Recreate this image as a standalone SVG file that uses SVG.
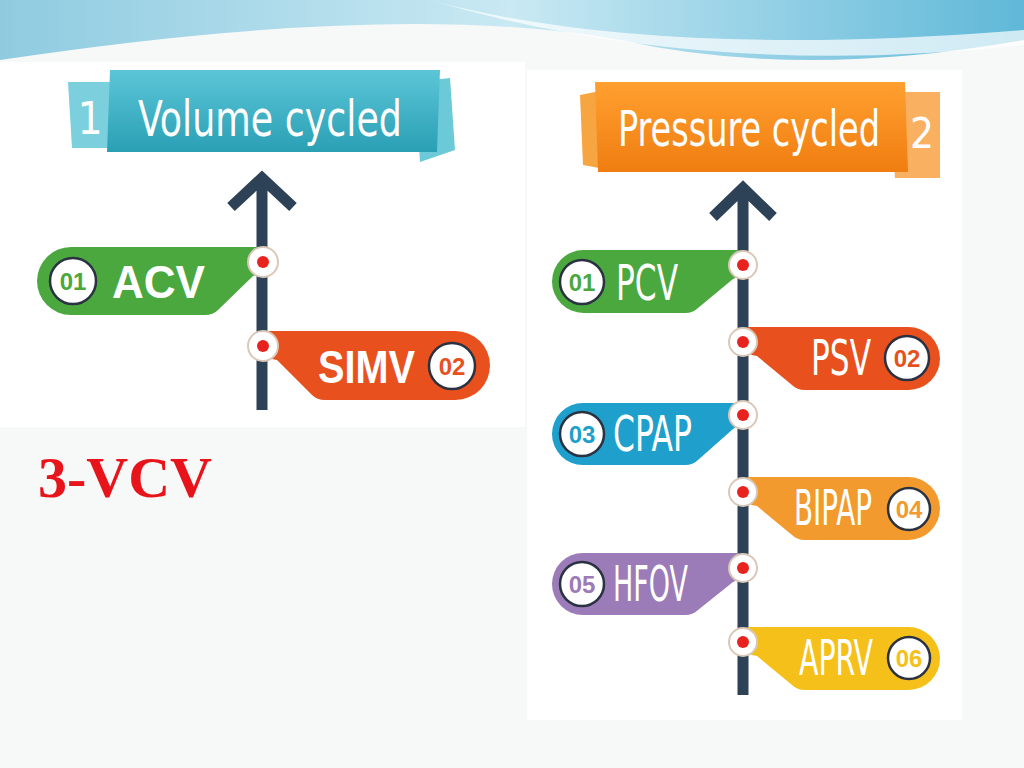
<svg xmlns="http://www.w3.org/2000/svg" width="1024" height="768" viewBox="0 0 1024 768">
<defs>
<linearGradient id="sky" x1="0" y1="0" x2="1" y2="0"><stop offset="0" stop-color="#8fcbe0"/><stop offset="0.5" stop-color="#c9e9f3"/><stop offset="1" stop-color="#5fb8d8"/></linearGradient>
<linearGradient id="teal" x1="0" y1="0" x2="0" y2="1"><stop offset="0" stop-color="#5cc6d8"/><stop offset="1" stop-color="#2a9fb4"/></linearGradient>
<linearGradient id="org" x1="0" y1="0" x2="0" y2="1"><stop offset="0" stop-color="#ffa030"/><stop offset="1" stop-color="#f07d10"/></linearGradient>
</defs>
<style>
.num{fill:#fff;stroke:#2a3140;stroke-width:2.5}
.nt{font-family:"Liberation Sans",Arial,sans-serif;font-weight:bold;font-size:24px;text-anchor:middle}
.bl{font-family:"Liberation Sans",Arial,sans-serif;font-weight:bold;font-size:46px;fill:#fff}
.cl{font-family:"DejaVu Sans Condensed","DejaVu Sans",sans-serif;font-size:50px;fill:#fff;font-stretch:condensed}
.dot{fill:#fff;stroke:#d9c8b8;stroke-width:2}
.red{fill:#e8231e}
.line{stroke:#2d4256;stroke-width:11;fill:none}
</style>
<rect width="1024" height="768" fill="#f7f8f8"/>
<path d="M0 0 H1024 V40 Q800 80 620 40 Q400 0 0 60 Z" fill="url(#sky)"/>
<path d="M430 0 Q650 60 1024 30 V45 Q700 80 430 0Z" fill="#ffffff" opacity="0.7"/>
<rect x="0" y="62" width="525" height="365" fill="#fff"/>
<rect x="527" y="70" width="435" height="650" fill="#fff"/>
<g id="connectors">
<path class="line" d="M262 410 V180 M231 207 L262 178 L293 207"/>
<path class="line" d="M743 695 V192 M713 217 L743 188 L773 217"/>
</g>
<g id="banner1">
<path d="M68 82 H130 V148 H72 Z" fill="#7ccfdc"/>
<path d="M415 82 L450 78 L455 150 L420 162 Z" fill="#6ccad8"/>
<path d="M110 70 H440 L437 152 H107 Z" fill="url(#teal)"/>
<text x="90" y="134" font-family="DejaVu Sans Condensed,DejaVu Sans,sans-serif" font-size="44" fill="#fff" text-anchor="middle">1</text>
<text x="138" y="136" class="cl" font-size="52" textLength="264" lengthAdjust="spacingAndGlyphs">Volume cycled</text>
</g>
<g id="banner2">
<path d="M580 95 L615 88 L610 170 L583 165 Z" fill="#f7a540"/>
<path d="M890 92 H940 V178 H895 Z" fill="#f9b060"/>
<path d="M595 82 H905 L908 172 H598 Z" fill="url(#org)"/>
<text x="922" y="148" font-family="DejaVu Sans Condensed,DejaVu Sans,sans-serif" font-size="42" fill="#fff" text-anchor="middle">2</text>
<text x="618" y="146" class="cl" textLength="262" lengthAdjust="spacingAndGlyphs">Pressure cycled</text>
</g>
<g id="acv">
<path d="M71 247 H258 A16 16 0 0 1 253 276 L218 310 Q213 315 205 315 H71 A34 34 0 0 1 71 247Z" fill="#4aa83f"/>
<circle class="num" cx="73" cy="281" r="23"/><text class="nt" x="73" y="290" fill="#4aa83f">01</text>
<text class="bl" x="112" y="298" textLength="93" lengthAdjust="spacingAndGlyphs">ACV</text>
<circle class="dot" cx="263" cy="262" r="15"/><circle class="red" cx="263" cy="262" r="6"/>
</g>
<g id="simv">
<path d="M268 331 H455.5 A34.5 34.5 0 0 1 455.5 400 H325 Q317 400 312 395 L277 360 A16 16 0 0 1 268 331Z" fill="#e8501e"/>
<circle class="num" cx="452" cy="366" r="23"/><text class="nt" x="452" y="375" fill="#e8501e">02</text>
<text class="bl" x="318" y="383" textLength="97" lengthAdjust="spacingAndGlyphs">SIMV</text>
<circle class="dot" cx="263" cy="346" r="15"/><circle class="red" cx="263" cy="346" r="6"/>
</g>
<g id="pcv">
<path d="M583.5 250 H738 A16 16 0 0 1 733 279 L698 308 Q693 313 685 313 H583.5 A31.5 31.5 0 0 1 583.5 250Z" fill="#4aa83f"/>
<circle class="num" cx="582" cy="282" r="22"/><text class="nt" x="582" y="291" fill="#4aa83f">01</text>
<text class="cl" x="616" y="300" textLength="62" lengthAdjust="spacingAndGlyphs">PCV</text>
<circle class="dot" cx="743" cy="265" r="14"/><circle class="red" cx="743" cy="265" r="6"/>
</g>
<g id="psv">
<path d="M748 327 H908.5 A31.5 31.5 0 0 1 908.5 390 H805 Q797 390 792 385 L757 356 A16 16 0 0 1 748 327Z" fill="#e8501e"/>
<circle class="num" cx="907" cy="358" r="22"/><text class="nt" x="907" y="367" fill="#e8501e">02</text>
<text class="cl" x="811" y="375" textLength="60" lengthAdjust="spacingAndGlyphs">PSV</text>
<circle class="dot" cx="743" cy="342" r="14"/><circle class="red" cx="743" cy="342" r="6"/>
</g>
<g id="cpap">
<path d="M583 403 H738 A16 16 0 0 1 733 429 L698 460 Q693 465 685 465 H583 A31 31 0 0 1 583 403Z" fill="#1e9fcc"/>
<circle class="num" cx="582" cy="434" r="22"/><text class="nt" x="582" y="443" fill="#1e9fcc">03</text>
<text class="cl" x="613" y="451" textLength="79" lengthAdjust="spacingAndGlyphs">CPAP</text>
<circle class="dot" cx="743" cy="415" r="14"/><circle class="red" cx="743" cy="415" r="6"/>
</g>
<g id="bipap">
<path d="M748 477 H908.5 A31.5 31.5 0 0 1 908.5 540 H805 Q797 540 792 535 L757 506 A16 16 0 0 1 748 477Z" fill="#f39a2e"/>
<circle class="num" cx="909" cy="509" r="21"/><text class="nt" x="909" y="518" fill="#f39a2e">04</text>
<text class="cl" x="794" y="525" textLength="78" lengthAdjust="spacingAndGlyphs">BIPAP</text>
<circle class="dot" cx="743" cy="492" r="14"/><circle class="red" cx="743" cy="492" r="6"/>
</g>
<g id="hfov">
<path d="M583 553 H738 A16 16 0 0 1 733 582 L698 610 Q693 615 685 615 H583 A31 31 0 0 1 583 553Z" fill="#9b7bb8"/>
<circle class="num" cx="582" cy="584" r="22"/><text class="nt" x="582" y="593" fill="#9b7bb8">05</text>
<text class="cl" x="613" y="601" textLength="75" lengthAdjust="spacingAndGlyphs">HFOV</text>
<circle class="dot" cx="743" cy="568" r="14"/><circle class="red" cx="743" cy="568" r="6"/>
</g>
<g id="aprv">
<path d="M748 627 H908.5 A31.5 31.5 0 0 1 908.5 690 H805 Q797 690 792 685 L757 656 A16 16 0 0 1 748 627Z" fill="#f5c01a"/>
<circle class="num" cx="909" cy="658" r="21"/><text class="nt" x="909" y="667" fill="#f5c01a">06</text>
<text class="cl" x="799" y="675" textLength="74" lengthAdjust="spacingAndGlyphs">APRV</text>
<circle class="dot" cx="743" cy="642" r="14"/><circle class="red" cx="743" cy="642" r="6"/>
</g>
<text x="38" y="497" font-family="Liberation Serif,serif" font-weight="bold" font-size="58" fill="#e8141b">3-VCV</text>
</svg>
